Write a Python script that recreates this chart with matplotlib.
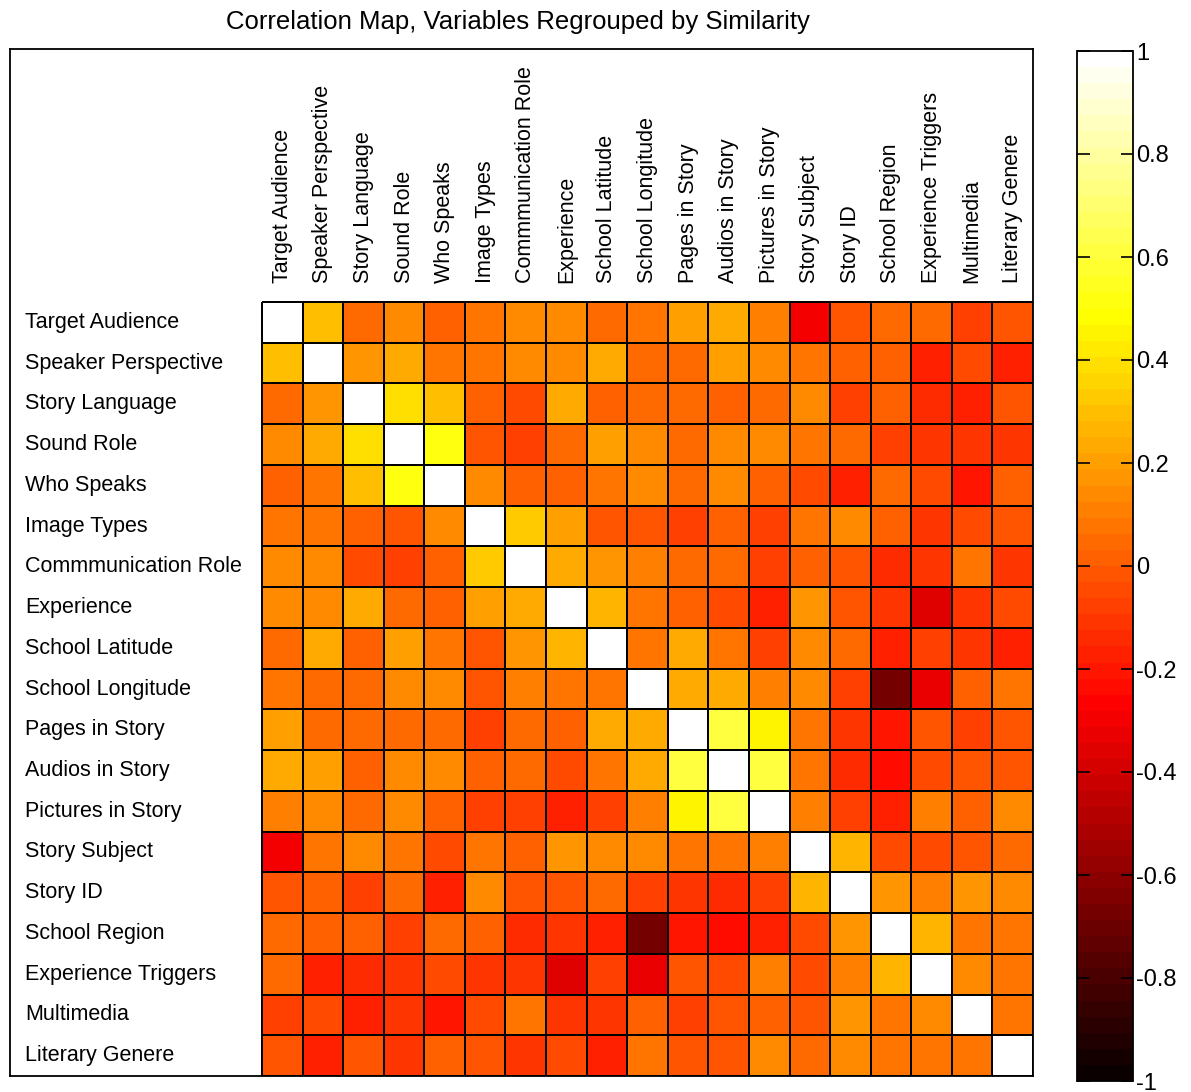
import numpy as np
import matplotlib
matplotlib.use("Agg")
import matplotlib.pyplot as plt
from matplotlib.colors import ListedColormap, Normalize
from matplotlib import font_manager

labels = ["Target Audience", "Speaker Perspective", "Story Language", "Sound Role",
          "Who Speaks", "Image Types", "Commmunication Role", "Experience",
          "School Latitude", "School Longitude", "Pages in Story", "Audios in Story",
          "Pictures in Story", "Story Subject", "Story ID", "School Region",
          "Experience Triggers", "Multimedia", "Literary Genere"]

# upper triangle of the correlation matrix (row i, columns i+1..18)
u00 = [0.31, 0.05, 0.15, 0.00, 0.07, 0.15, 0.15, 0.05, 0.07, 0.20, 0.22, 0.11, -0.30, -0.03, 0.05, 0.05, -0.07, -0.01]
u01 = [0.18, 0.24, 0.07, 0.08, 0.15, 0.15, 0.22, 0.06, 0.06, 0.21, 0.13, 0.08, 0.02, 0.00, -0.18, -0.06, -0.18]
u02 = [0.40, 0.30, 0.01, -0.06, 0.22, 0.02, 0.05, 0.06, 0.02, 0.06, 0.15, -0.085, 0.03, -0.14, -0.18, -0.01]
u03 = [0.52, -0.03, -0.07, 0.045, 0.21, 0.13, 0.06, 0.15, 0.13, 0.08, 0.055, -0.07, -0.12, -0.11, -0.11]
u04 = [0.15, 0.02, 0.03, 0.09, 0.13, 0.055, 0.15, 0.015, -0.045, -0.17, 0.055, -0.055, -0.21, 0.00]
u05 = [0.34, 0.215, -0.03, -0.015, -0.08, 0.01, -0.07, 0.09, 0.15, 0.03, -0.12, -0.04, -0.03]
u06 = [0.24, 0.16, 0.115, 0.06, 0.06, -0.065, 0.00, -0.01, -0.15, -0.11, 0.07, -0.11]
u07 = [0.27, 0.075, 0.01, -0.06, -0.18, 0.18, -0.015, -0.11, -0.35, -0.105, -0.06]
u08 = [0.07, 0.23, 0.075, -0.07, 0.15, 0.045, -0.18, -0.085, -0.11, -0.18]
u09 = [0.23, 0.23, 0.10, 0.13, -0.07, -0.67, -0.32, 0.03, 0.075]
u10 = [0.61, 0.45, 0.08, -0.11, -0.19, -0.01, -0.07, -0.03]
u11 = [0.61, 0.075, -0.14, -0.24, -0.045, -0.01, -0.01]
u12 = [0.10, -0.08, -0.185, 0.095, 0.015, 0.125]
u13 = [0.28, -0.06, -0.04, -0.015, 0.06]
u14 = [0.185, 0.115, 0.16, 0.15]
u15 = [0.27, 0.075, 0.085]
u16 = [0.14, 0.09]
u17 = [0.085]
upper = [u00, u01, u02, u03, u04, u05, u06, u07, u08, u09, u10, u11, u12, u13, u14, u15, u16, u17]

cbar_ticks = [1, 0.8, 0.6, 0.4, 0.2, 0, -0.2, -0.4, -0.6, -0.8, -1]
cbar_ticklabels = ["1", "0.8", "0.6", "0.4", "0.2", "0", "-0.2", "-0.4", "-0.6", "-0.8", "-1"]

n = len(labels)
C = np.eye(n)
for i, row in enumerate(upper):
    for k, v in enumerate(row):
        j = i + 1 + k
        C[i, j] = v
        C[j, i] = v

# MATLAB hot(64)
m = 64
q = 24
r = [(i + 1) / q for i in range(q)] + [1.0] * (m - q)
g = [0.0] * q + [(i + 1) / q for i in range(q)] + [1.0] * (m - 2 * q)
b = [0.0] * (2 * q) + [(i + 1) / (m - 2 * q) for i in range(m - 2 * q)]
cmap = ListedColormap(np.column_stack([r, g, b]))
norm = Normalize(vmin=-1, vmax=1)

plt.rcParams['font.family'] = ['Liberation Sans', 'DejaVu Sans']

W, H = 1191, 1092
fig = plt.figure(figsize=(W / 100, H / 100), dpi=100)

L, R, T, B = 10, 1033, 49, 1076
ax = fig.add_axes([L / W, 1 - B / H, (R - L) / W, (B - T) / H])
cell_x = (1033 - 262) / n
cell_y = (1076 - 302) / n
ax.set_xlim(-(262 - L) / cell_x, n)
ax.set_ylim(n, -(302 - T) / cell_y)
mesh = ax.pcolormesh(np.arange(n + 1), np.arange(n + 1), C, cmap=cmap, norm=norm,
                     edgecolors='black', linewidth=1.2)
ax.set_xticks([])
ax.set_yticks([])
for s in ax.spines.values():
    s.set_linewidth(1.3)
    s.set_color('black')

xrow = (25 - 262) / cell_x
for i, lab in enumerate(labels):
    ax.text(xrow, i + 0.5, lab, ha='left', va='center', fontsize=15.5)
ycol = (283 - 302) / cell_y
for j, lab in enumerate(labels):
    ax.text(j + 0.5, ycol, lab, ha='center', va='bottom', rotation=90, fontsize=15.5)

fig.text(518 / W, 1 - 22 / H, "Correlation Map, Variables Regrouped by Similarity",
         ha='center', va='center', fontsize=18.5)

cL, cR, cT, cB = 1077, 1133, 51, 1081
cax = fig.add_axes([cL / W, 1 - cB / H, (cR - cL) / W, (cB - cT) / H])
cb = fig.colorbar(mesh, cax=cax)
cb.set_ticks(cbar_ticks)
cb.set_ticklabels(cbar_ticklabels)
cax.yaxis.set_ticks_position('both')
cax.tick_params(axis='y', direction='in', length=9, width=1.2, pad=2,
                labelsize=17, left=True, right=True, labelleft=False, labelright=True)
labs = cax.get_yticklabels()
cb.outline.set_linewidth(1.3)

fig.savefig("out.png", dpi=100)
